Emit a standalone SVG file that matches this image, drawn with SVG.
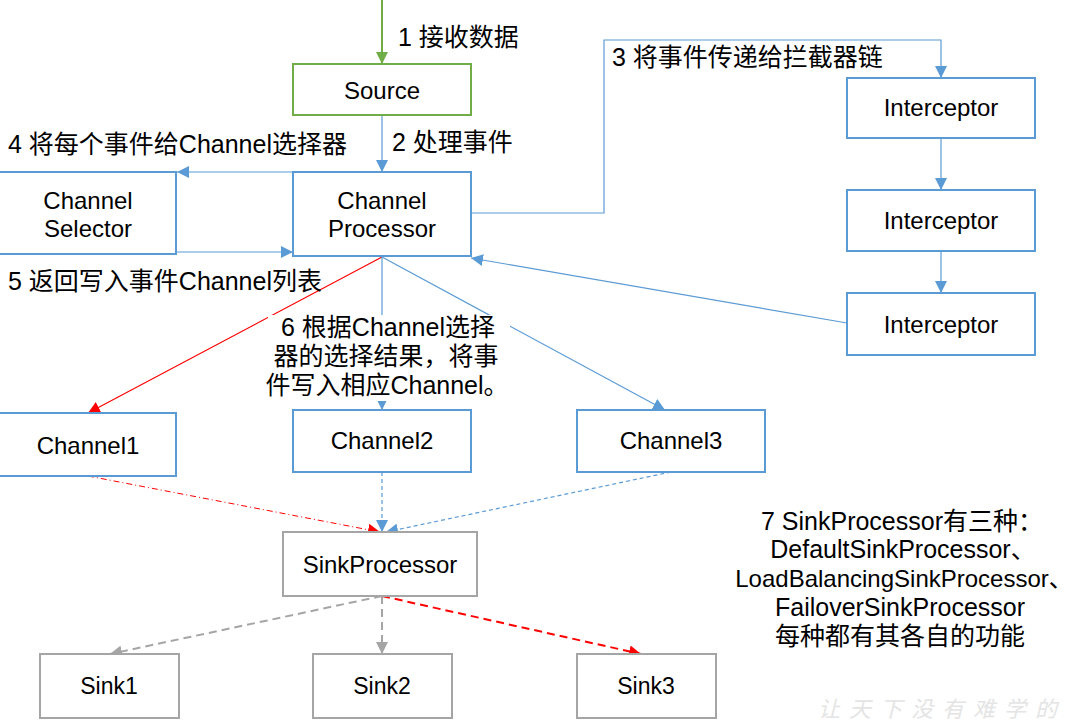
<svg xmlns="http://www.w3.org/2000/svg" width="1078" height="721" viewBox="0 0 1078 721">
<style>
text{font-family:"Liberation Sans","Noto Sans CJK SC",sans-serif;font-size:24px;fill:#000}
.l{font-size:25px}
.c{text-anchor:middle}
.bb{fill:#fff;stroke:#5B9BD5;stroke-width:2}
.bg{fill:#fff;stroke:#70AD47;stroke-width:2}
.bs{fill:#fff;stroke:#A5A5A5;stroke-width:2}
.lb{fill:none;stroke:#5B9BD5;stroke-width:1.2}
.lr{fill:none;stroke:#FF0000;stroke-width:1.2}
.lg{fill:none;stroke:#70AD47;stroke-width:2}
.db{fill:none;stroke:#5B9BD5;stroke-width:1.2;stroke-dasharray:4 3}
.dr{fill:none;stroke:#FF0000;stroke-width:1;stroke-dasharray:6 3 1 3}
.dg{fill:none;stroke:#A5A5A5;stroke-width:2;stroke-dasharray:8 5}
.drr{fill:none;stroke:#FF0000;stroke-width:2;stroke-dasharray:8 5}
.wm{font-family:"Noto Sans CJK SC",sans-serif;font-size:22px;fill:#e4e4e4;letter-spacing:9px;font-style:italic}
</style>
<defs>
<marker id="ab" viewBox="0 0 12 12" refX="12" refY="6" markerWidth="12" markerHeight="12" markerUnits="userSpaceOnUse" orient="auto"><path d="M0,0 L12,6 L0,12 z" fill="#5B9BD5"/></marker>
<marker id="ar" viewBox="0 0 12 12" refX="12" refY="6" markerWidth="12" markerHeight="12" markerUnits="userSpaceOnUse" orient="auto"><path d="M0,0 L12,6 L0,12 z" fill="#FF0000"/></marker>
<marker id="ag" viewBox="0 0 12 12" refX="12" refY="6" markerWidth="12" markerHeight="12" markerUnits="userSpaceOnUse" orient="auto"><path d="M0,0 L12,6 L0,12 z" fill="#70AD47"/></marker>
<marker id="ay" viewBox="0 0 12 12" refX="12" refY="6" markerWidth="12" markerHeight="12" markerUnits="userSpaceOnUse" orient="auto"><path d="M0,0 L12,6 L0,12 z" fill="#A5A5A5"/></marker>
</defs>
<rect width="1078" height="721" fill="#fff"/>
<g id="connectors">
<path class="lg" d="M382,0 V64" marker-end="url(#ag)"/>
<path class="lb" d="M382,115 V172" marker-end="url(#ab)"/>
<path class="lb" d="M471,213 H604 V40 H941 V78" marker-end="url(#ab)"/>
<path class="lb" d="M293,172 H177" marker-end="url(#ab)"/>
<path class="lb" d="M177,252 H293" marker-end="url(#ab)"/>
<path class="lb" d="M941,138 V190" marker-end="url(#ab)"/>
<path class="lb" d="M941,251 V293" marker-end="url(#ab)"/>
<path class="lb" d="M847,323 L471,258" marker-end="url(#ab)"/>
<path class="lr" d="M382,257 L88,413" marker-end="url(#ar)"/>
<path class="lb" d="M382,257 V410" marker-end="url(#ab)"/>
<path class="lb" d="M382,257 L665,410" marker-end="url(#ab)"/>
<path class="dr" d="M88,476 L380,532" marker-end="url(#ar)"/>
<path class="db" d="M382,472 V532" marker-end="url(#ab)"/>
<path class="db" d="M671,472 L386,532" marker-end="url(#ab)"/>
<path class="dg" d="M382,596 L110,654" marker-end="url(#ay)"/>
<path class="dg" d="M382,596 V654" marker-end="url(#ay)"/>
<path class="drr" d="M382,596 L641,654" marker-end="url(#ar)"/>
</g>
<g id="labels">
<text class="l" x="398" y="46">1 接收数据</text>
<text class="l" x="392" y="151">2 处理事件</text>
<text class="l" x="612" y="66">3 将事件传递给拦截器链</text>
<text class="l" x="8" y="153">4 将每个事件给Channel选择器</text>
<text class="l" x="8" y="290">5 返回写入事件Channel列表</text>
<rect x="268" y="315" width="242" height="86" fill="#fff"/>
<text class="l c" x="388" y="336">6 根据Channel选择</text>
<text class="l c" x="386" y="365">器的选择结果，将事</text>
<text class="l c" x="387" y="394">件写入相应Channel。</text>
<text class="l c" x="902" y="530">7 SinkProcessor有三种：</text>
<text class="l c" x="903" y="558">DefaultSinkProcessor、</text>
<text class="c" x="904" y="587">LoadBalancingSinkProcessor、</text>
<text class="l c" x="900" y="616">FailoverSinkProcessor</text>
<text class="l c" x="900" y="645">每种都有其各自的功能</text>
<text class="wm" x="818" y="717">让天下没有难学的</text>
</g>
<g id="source"><rect class="bg" x="293" y="64" width="178" height="51"/><text class="c" x="382" y="99">Source</text></g>
<g id="channel-selector"><rect class="bb" x="-1" y="172" width="177" height="82"/><text class="c" x="88" y="209">Channel</text><text class="c" x="88" y="237">Selector</text></g>
<g id="channel-processor"><rect class="bb" x="293" y="172" width="178" height="84"/><text class="c" x="382" y="209">Channel</text><text class="c" x="382" y="237">Processor</text></g>
<g id="interceptor1"><rect class="bb" x="847" y="78" width="188" height="60"/><text class="c" x="941" y="116">Interceptor</text></g>
<g id="interceptor2"><rect class="bb" x="847" y="190" width="188" height="61"/><text class="c" x="941" y="229">Interceptor</text></g>
<g id="interceptor3"><rect class="bb" x="847" y="293" width="188" height="62"/><text class="c" x="941" y="333">Interceptor</text></g>
<g id="channel1"><rect class="bb" x="-1" y="413" width="177" height="63"/><text class="c" x="88" y="454">Channel1</text></g>
<g id="channel2"><rect class="bb" x="293" y="410" width="178" height="62"/><text class="c" x="382" y="449">Channel2</text></g>
<g id="channel3"><rect class="bb" x="577" y="410" width="188" height="62"/><text class="c" x="671" y="449">Channel3</text></g>
<g id="sink-processor"><rect class="bs" x="283" y="532" width="194" height="64"/><text class="c" x="380" y="573">SinkProcessor</text></g>
<g id="sink1"><rect class="bs" x="40" y="654" width="139" height="64"/><text class="c" x="109" y="694" style="font-size:23px">Sink1</text></g>
<g id="sink2"><rect class="bs" x="313" y="654" width="139" height="64"/><text class="c" x="382" y="694" style="font-size:23px">Sink2</text></g>
<g id="sink3"><rect class="bs" x="577" y="654" width="139" height="64"/><text class="c" x="646" y="694" style="font-size:23px">Sink3</text></g>
</svg>
